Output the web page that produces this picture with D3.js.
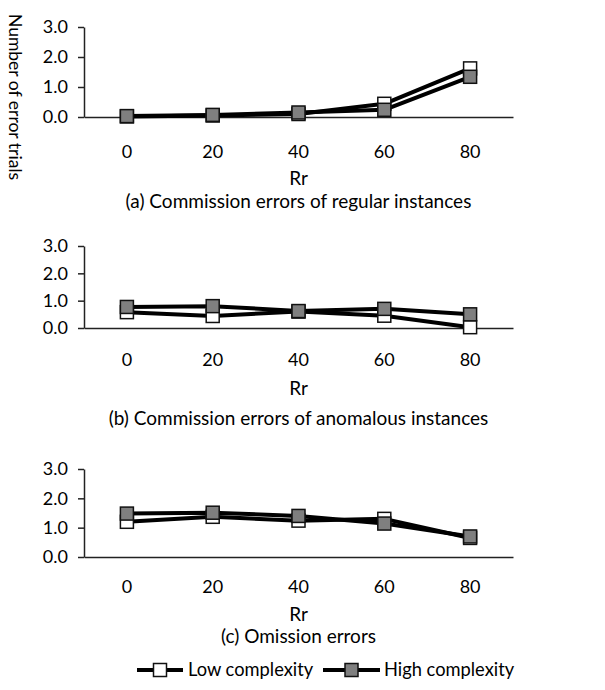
<!DOCTYPE html>
<html>
<head>
<meta charset="utf-8">
<script src="https://cdn.jsdelivr.net/npm/d3@7"></script>
<style>
  body { margin: 0; background: #fff; }
  text { font-family: Lato, "Open Sans", sans-serif; fill: #000; }
</style>
</head>
<body>
<script>
// Data
const rrLabels = ["0", "20", "40", "60", "80"];
const yTicks = [0, 1, 2, 3];
const seriesNames = ["Low complexity", "High complexity"];
const regularLow = [0.02, 0.05, 0.10, 0.44, 1.62];
const regularHigh = [0.03, 0.07, 0.15, 0.24, 1.34];
const anomalousLow = [0.58, 0.44, 0.60, 0.45, 0.03];
const anomalousHigh = [0.77, 0.80, 0.62, 0.70, 0.50];
const omissionLow = [1.20, 1.37, 1.24, 1.30, 0.65];
const omissionHigh = [1.48, 1.51, 1.40, 1.14, 0.70];
const captions = [
  "(a) Commission errors of regular instances",
  "(b) Commission errors of anomalous instances",
  "(c) Omission errors"
];

const canvWidth = 605, canvHeight = 690;
const svg = d3.select("body").append("svg")
    .attr("width", canvWidth)
    .attr("height", canvHeight);

const fills = ["#ffffff", "#7f7f7f"];
const fontSize = 19, tickFont = 18;
const fontFam = "Lato, 'Open Sans', sans-serif";

// panel layout: top/zero of y range and label positions
const panels = [
  {low: regularLow, high: regularHigh, top: 27, zero: 117, ticksY: 152, titleY: 178, capY: 201},
  {low: anomalousLow, high: anomalousHigh, top: 246, zero: 328, ticksY: 360, titleY: 388, capY: 418},
  {low: omissionLow, high: omissionHigh, top: 469, zero: 557, ticksY: 587, titleY: 614, capY: 636}
];

const xScale = d3.scaleBand()
    .domain(rrLabels)
    .range([84, 513]);

panels.forEach(function(p, i) {
  const g = svg.append("g");
  const yScale = d3.scaleLinear().domain([0, 3]).range([p.zero, p.top]);

  // y axis
  const yAxis = d3.axisLeft(yScale)
      .tickValues(yTicks)
      .tickFormat(d3.format(".1f"))
      .tickSize(6)
      .tickSizeOuter(0)
      .tickPadding(10);
  const ya = g.append("g")
      .attr("transform", "translate(84,0)")
      .call(yAxis);
  ya.selectAll("text").attr("font-size", tickFont + "px").attr("font-family", fontFam);
  ya.selectAll("line, path").attr("stroke", "#222").attr("stroke-width", 1.5);

  // x axis
  const xAxis = d3.axisBottom(xScale).tickSize(0).tickSizeOuter(0).tickPadding(0);
  const xa = g.append("g")
      .attr("transform", "translate(0," + p.zero + ")")
      .call(xAxis);
  xa.select(".domain").attr("stroke", "#222").attr("stroke-width", 1.5);
  xa.selectAll("text")
      .attr("font-size", tickFont + "px")
      .attr("font-family", fontFam)
      .attr("y", p.ticksY - p.zero)
      .attr("dy", "0.35em");

  g.append("text")
      .attr("x", xScale("40") + xScale.bandwidth() / 2)
      .attr("y", p.titleY)
      .attr("dy", "0.35em")
      .attr("font-size", fontSize + "px")
      .attr("text-anchor", "middle")
      .text("Rr");

  g.append("text")
      .attr("x", xScale("40") + xScale.bandwidth() / 2)
      .attr("y", p.capY)
      .attr("dy", "0.35em")
      .attr("font-size", fontSize + "px")
      .attr("text-anchor", "middle")
      .text(captions[i]);

  const line = d3.line()
      .x((d, j) => xScale(rrLabels[j]) + xScale.bandwidth() / 2)
      .y(d => yScale(d));

  [p.low, p.high].forEach(function(vals) {
    g.append("path")
        .attr("d", line(vals))
        .attr("fill", "none")
        .attr("stroke", "#000")
        .attr("stroke-width", 4)
        .attr("stroke-linejoin", "round");
  });
  [p.low, p.high].forEach(function(vals, s) {
    g.selectAll(".m" + s)
        .data(vals)
        .enter().append("rect")
        .attr("x", (d, j) => xScale(rrLabels[j]) + xScale.bandwidth() / 2 - 6.5)
        .attr("y", d => yScale(d) - 6.5)
        .attr("width", 13)
        .attr("height", 13)
        .attr("fill", fills[s])
        .attr("stroke", "#111")
        .attr("stroke-width", 1.5);
  });
});

// Y axis title
svg.append("text")
    .attr("transform", "translate(15,97) rotate(90)")
    .attr("text-anchor", "middle")
    .attr("dy", "0.35em")
    .attr("font-size", "17.5px")
    .text("Number of error trials");

// Legend
const legendItems = [{x1: 137, x2: 183, tx: 188}, {x1: 323, x2: 380, tx: 384}];
const legendY = 670;
legendItems.forEach(function(l, s) {
  svg.append("line")
      .attr("x1", l.x1).attr("x2", l.x2)
      .attr("y1", legendY).attr("y2", legendY)
      .attr("stroke", "#000").attr("stroke-width", 4);
  svg.append("rect")
      .attr("x", (l.x1 + l.x2) / 2 - 6.5)
      .attr("y", legendY - 6.5)
      .attr("width", 13).attr("height", 13)
      .attr("fill", fills[s])
      .attr("stroke", "#111").attr("stroke-width", 1.5);
  svg.append("text")
      .attr("x", l.tx)
      .attr("y", legendY)
      .attr("dy", "0.35em")
      .attr("font-size", "18.3px")
      .text(seriesNames[s]);
});
</script>
</body>
</html>
